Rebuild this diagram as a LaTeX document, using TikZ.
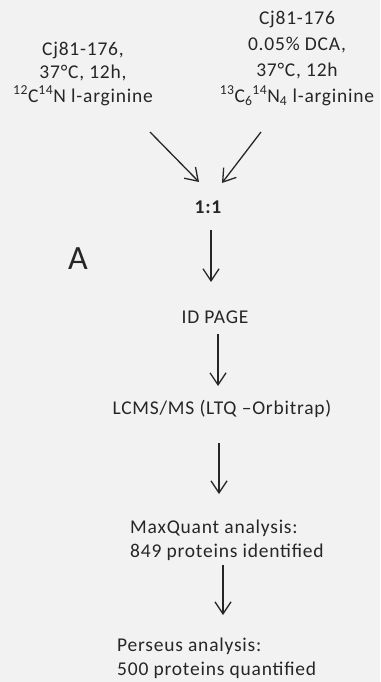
\documentclass[tikz,border=0pt]{standalone}
\usepackage{fontspec}
\setmainfont{Carlito}[LetterSpace=4]
\usetikzlibrary{arrows.meta}
\definecolor{bg}{HTML}{F2F2F2}
\definecolor{ink}{HTML}{262626}
\tikzset{
  lbl/.style={text=ink, inner sep=0pt, font=\fontsize{19.5}{24}\selectfont},
  flow/.style={draw=ink, line width=1.3pt, -{Straight Barb[length=12pt,width=16pt,line width=1.3pt]}}
}
\begin{document}
\begin{tikzpicture}[x=1pt,y=-1pt]
\fill[bg] (0,0) rectangle (380,682);
\useasboundingbox (0,0) rectangle (380,682);
\node[lbl, align=center, font=\fontsize{19.5}{23.5}\selectfont] (left) at (83,73.5) {Cj81-176,\\37°C, 12h,\\\textsuperscript{12}C\textsuperscript{14}N l-arginine};
\node[lbl, align=center, font=\fontsize{19.5}{25.7}\selectfont] (right) at (297,58.5) {Cj81-176\\0.05\% DCA,\\37°C, 12h\\\textsuperscript{13}C\textsubscript{6}\textsuperscript{14}N\textsubscript{4} l-arginine};
\node[lbl, font=\bfseries\fontsize{19.5}{24}\selectfont] (mix) at (208,207) {1:1};
\node[lbl, font=\fontsize{34}{40}\selectfont] (A) at (78,259) {A};
\node[lbl] (page) at (215,317) {ID PAGE};
\node[lbl] (lcms) at (222,409) {LCMS/MS (LTQ –Orbitrap)};
\node[lbl, align=left, anchor=west] (mq) at (130,540) {MaxQuant analysis:\\849 proteins identified};
\node[lbl, align=left, anchor=west] (ps) at (117,658.5) {Perseus analysis:\\500 proteins quantified};
\coordinate (l1) at (150,132); \coordinate (l2) at (199,182);
\coordinate (r1) at (261,132); \coordinate (r2) at (222,183);
\coordinate (m1) at (211,230); \coordinate (m2) at (211,282);
\coordinate (p1) at (218,334); \coordinate (p2) at (218,386);
\coordinate (c1) at (219,443); \coordinate (c2) at (219,494);
\coordinate (q1) at (223,565); \coordinate (q2) at (223,615);
\draw[flow] (l1) -- (l2);
\draw[flow] (r1) -- (r2);
\draw[flow] (m1) -- (m2);
\draw[flow] (p1) -- (p2);
\draw[flow] (c1) -- (c2);
\draw[flow] (q1) -- (q2);
\end{tikzpicture}
\end{document}
